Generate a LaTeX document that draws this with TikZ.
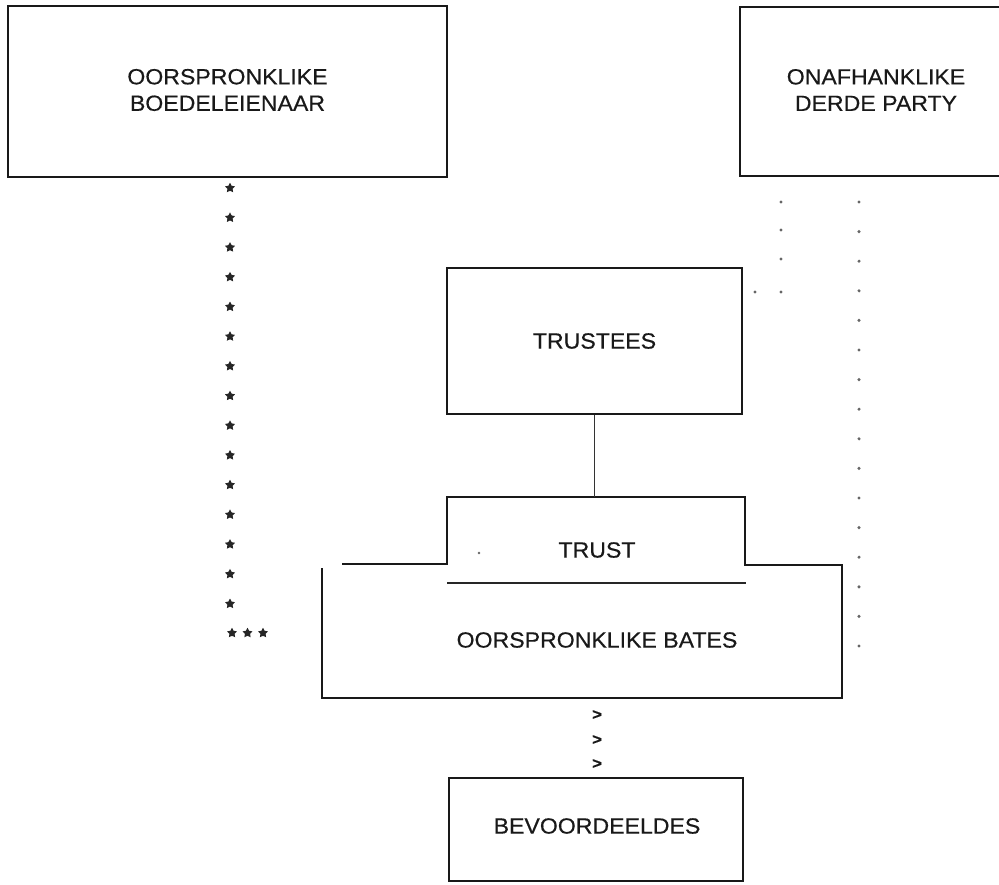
\documentclass[tikz,border=0pt]{standalone}
\usepackage{fontspec}
\setmainfont{Liberation Sans}[FakeStretch=1.05,FakeBold=0.4]
\usetikzlibrary{shapes.geometric}
\tikzset{
  every picture/.style={x=1pt,y=-1pt},
  boxframe/.style={draw=black!90, line width=1.9pt},
  lbl/.style={font=\fontsize{22}{26.5}\selectfont, text=black!90, align=center, inner sep=0pt},
  starmark/.style={star, star points=5, star point ratio=1.9, fill=black!85, draw=none, inner sep=0pt, minimum size=10.5pt},
  dotmark/.style={circle, fill=black!60, draw=none, inner sep=0pt, minimum size=3.4pt},
  chevron/.style={font=\fontsize{16}{16}\bfseries\selectfont, text=black!90, inner sep=0pt}
}
\begin{document}
\begin{tikzpicture}
\clip (0,0) rectangle (999,884);
\fill[white] (0,0) rectangle (999,884);

% upper boxes
\draw[boxframe] (8,6) rectangle (447,177);
\node[lbl] (owner) at (227.5,90) {OORSPRONKLIKE\\BOEDELEIENAAR};
\draw[boxframe] (740,7) rectangle (1012,176);
\node[lbl] (party) at (876,90) {ONAFHANKLIKE\\DERDE PARTY};

% trustees
\node[boxframe, minimum width=295pt, minimum height=146pt] (trustees) at (594.5,341) {};
\node[lbl] at (trustees.center) {TRUSTEES};

% trust on top of the original assets
\coordinate (trusttop) at (594.5,497);
\draw[boxframe, line width=1.7pt]
  (342,564) -- (447,564) -- (447,497) -- (745,497) -- (745,565)
  -- (842,565) -- (842,698) -- (322,698) -- (322,568);
\draw[line width=1.3pt, black!85] (447,583) -- (746,583);
\node[lbl] (trust) at (597,550) {TRUST};
\node[lbl] (bates) at (597,640) {OORSPRONKLIKE BATES};
\fill[black!60] (479,553) circle (1.4pt);

% trustees to trust
\draw[line width=0.9pt, black!80] (trustees.south) -- (trusttop);

% beneficiaries
\draw[boxframe] (449,778) rectangle (743,881);
\node[lbl] (benef) at (597,826) {BEVOORDEELDES};

% flow from assets to beneficiaries
\foreach \yy in {715,740,764}
  \node[chevron] at (597,\yy) {>};

% owner to assets: starred trail
\foreach \i in {0,...,14}
  \node[starmark] at (230,{188+29.7*\i}) {};
\foreach \xx in {232,247.5,263}
  \node[starmark] at (\xx,633) {};

% third party: dotted trails
\foreach \yy in {202,230,259,292}
  \node[dotmark] at (781,\yy) {};
\node[dotmark] at (755,292) {};
\foreach \i in {0,...,15}
  \node[dotmark] at (859,{202+29.6*\i}) {};
\end{tikzpicture}
\end{document}
